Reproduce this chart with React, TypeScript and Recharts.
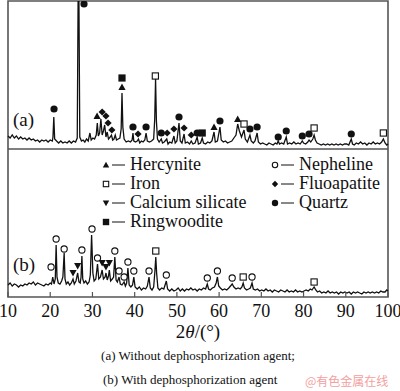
import { ComposedChart, Line, Scatter, XAxis, YAxis, ReferenceArea, ReferenceLine } from "recharts";

const SERIF = "'Times New Roman', 'Liberation Serif', Times, serif";
const INK = "#111";
const FRAME = "#555";

// 2θ ticks along the bottom
const TICKS = [10, 20, 30, 40, 50, 60, 70, 80, 90, 100];

// panel (a) sits on top of panel (b): its intensities are shifted up by this much
const OFFSET_A = 148;

// (a) without dephosphorization agent — [2θ, intensity]
const patternA: [number, number][] = [
  [10, 13], [10.5, 11], [11, 14], [11.5, 11], [12, 13], [12.5, 10], [13, 12], [13.5, 10], [14, 11], [14.5, 9],
  [15, 11], [15.5, 9], [16, 10], [16.5, 8], [17, 9], [17.5, 7], [18, 9], [18.5, 8], [19, 9], [19.5, 7],
  [20, 9], [20.5, 8], [20.65, 12], [20.85, 32], [21.05, 10], [21.5, 8], [22, 6], [22.5, 8], [23, 6], [23.5, 7],
  [24, 6], [24.5, 8], [25, 6], [25.5, 8], [26, 7], [26.4, 11], [26.6, 148], [26.8, 148], [27, 12], [27.4, 8],
  [27.8, 9], [28.2, 7], [28.6, 10], [29, 8], [29.4, 16], [29.7, 9], [30.1, 11], [30.5, 10], [30.9, 14], [31.15, 26],
  [31.4, 13], [31.7, 16], [32, 30], [32.3, 14], [32.6, 18], [32.9, 24], [33.2, 12], [33.5, 17], [33.8, 10], [34.2, 12],
  [34.5, 14], [34.8, 9], [35.1, 10], [35.4, 14], [35.7, 9], [36.1, 10], [36.5, 11], [36.8, 20], [37, 56], [37.2, 22],
  [37.5, 10], [38, 7], [38.5, 8], [39, 7], [39.4, 9], [39.6, 16], [39.8, 8], [40.2, 7], [40.6, 8], [40.9, 10],
  [41.2, 6], [41.6, 8], [42, 7], [42.4, 9], [42.7, 16], [43, 8], [43.5, 7], [44, 8], [44.5, 10], [44.75, 30],
  [44.95, 70], [45.15, 28], [45.4, 10], [45.8, 7], [46.3, 10], [46.6, 6], [47, 7], [47.6, 10], [47.9, 5], [48.3, 7],
  [48.8, 6], [49.3, 13], [49.6, 6], [50, 8], [50.5, 26], [50.8, 8], [51.2, 6], [51.7, 15], [52, 6], [52.5, 7],
  [53, 5], [53.4, 8], [53.8, 5], [54.3, 6], [54.8, 12], [55.1, 5], [55.6, 6], [56, 11], [56.3, 6], [56.8, 5],
  [57.3, 7], [57.8, 6], [58.3, 8], [58.8, 17], [59.1, 7], [59.6, 8], [60.2, 22], [60.5, 9], [61, 7], [61.5, 8],
  [62, 6], [62.5, 7], [63, 8], [63.5, 11], [64, 14], [64.4, 25], [64.8, 18], [65.3, 12], [65.9, 19], [66.2, 10],
  [66.7, 7], [67.3, 14], [67.6, 8], [68.1, 6], [68.5, 8], [69, 16], [69.3, 7], [69.8, 5], [70.3, 6], [70.8, 5],
  [71.3, 4], [71.8, 6], [72.3, 5], [72.8, 4], [73.3, 6], [73.7, 5], [74, 8], [74.3, 5], [74.8, 6], [75.3, 5],
  [75.9, 12], [76.2, 5], [76.7, 6], [77.2, 5], [77.7, 7], [78.2, 5], [78.7, 6], [79.2, 5], [79.7, 8], [80, 6],
  [80.5, 5], [81, 7], [81.3, 9], [81.7, 7], [82.2, 10], [82.5, 14], [82.8, 9], [83.2, 6], [83.7, 5], [84.2, 4],
  [84.7, 5], [85.2, 4], [85.7, 5], [86.2, 4], [86.7, 5], [87.2, 4], [87.7, 5], [88.2, 4], [88.7, 5], [89.2, 4],
  [89.7, 5], [90.2, 5], [90.7, 4], [91.3, 10], [91.6, 5], [92, 4], [92.5, 6], [93, 5], [93.5, 7], [94, 5],
  [94.5, 6], [95, 4], [95.5, 6], [96, 5], [96.5, 7], [97, 5], [97.5, 6], [98, 5], [98.5, 7], [98.9, 10],
  [99.3, 6], [99.7, 4], [100, 5],
];

// (b) with dephosphorization agent
const patternB: [number, number][] = [
  [10, 12], [10.5, 14], [11, 11], [11.5, 13], [12, 12], [12.5, 10], [13, 12], [13.5, 11], [14, 13], [14.5, 12],
  [15, 14], [15.5, 13], [16, 15], [16.5, 12], [17, 14], [17.5, 13], [18, 12], [18.5, 11], [19, 13], [19.5, 12],
  [20, 14], [20.3, 13], [20.6, 20], [20.9, 13], [21.2, 18], [21.4, 52], [21.6, 20], [21.9, 14], [22.3, 13], [22.7, 16],
  [23, 20], [23.3, 44], [23.5, 18], [23.8, 13], [24.2, 15], [24.6, 12], [25, 14], [25.4, 18], [25.7, 13], [26.1, 16],
  [26.5, 24], [26.8, 15], [27.1, 14], [27.3, 20], [27.5, 41], [27.7, 18], [28, 14], [28.4, 16], [28.8, 13], [29.2, 15],
  [29.5, 22], [29.8, 62], [30.1, 24], [30.4, 16], [30.8, 18], [31.2, 33], [31.5, 18], [31.9, 20], [32.3, 27], [32.6, 18],
  [33, 20], [33.2, 24], [33.5, 17], [33.8, 21], [34, 27], [34.3, 16], [34.7, 18], [35, 20], [35.3, 40], [35.6, 17],
  [35.9, 15], [36.3, 20], [36.6, 13], [37, 12], [37.5, 15], [37.8, 11], [38.1, 14], [38.4, 29], [38.7, 12], [39.1, 10],
  [39.5, 12], [39.8, 20], [40.1, 10], [40.6, 8], [41.1, 10], [41.6, 7], [42.1, 9], [42.6, 8], [43, 11], [43.4, 20],
  [43.7, 9], [44.1, 7], [44.5, 10], [44.8, 26], [45, 40], [45.2, 24], [45.5, 9], [45.9, 7], [46.4, 9], [46.9, 8],
  [47.5, 16], [47.8, 8], [48.3, 6], [48.8, 8], [49.3, 6], [49.8, 7], [50.3, 9], [50.8, 6], [51.3, 8], [51.8, 6],
  [52.3, 8], [52.8, 7], [53.3, 9], [53.8, 7], [54.3, 8], [54.8, 6], [55.3, 8], [55.8, 7], [56.3, 9], [56.8, 8],
  [57.2, 13], [57.5, 8], [57.9, 7], [58.4, 9], [58.9, 10], [59.3, 14], [59.6, 20], [59.9, 11], [60.3, 9], [60.8, 7],
  [61.3, 8], [61.8, 7], [62.3, 9], [62.7, 11], [63.1, 13], [63.5, 10], [64, 8], [64.5, 9], [65, 8], [65.4, 10],
  [65.7, 14], [66, 9], [66.5, 7], [67, 8], [67.4, 9], [67.8, 14], [68.1, 8], [68.6, 7], [69.1, 8], [69.6, 6],
  [70.1, 7], [70.6, 6], [71.1, 8], [71.6, 6], [72.1, 7], [72.6, 5], [73.1, 7], [73.6, 6], [74.1, 5], [74.6, 7],
  [75.1, 6], [75.6, 5], [76.1, 7], [76.6, 5], [77.1, 6], [77.6, 5], [78.1, 7], [78.6, 5], [79.1, 6], [79.6, 5],
  [80.1, 6], [80.6, 7], [81.1, 6], [81.6, 8], [82, 7], [82.5, 10], [82.9, 7], [83.3, 5], [83.8, 6], [84.3, 4],
  [84.8, 5], [85.3, 4], [85.8, 6], [86.3, 4], [86.8, 5], [87.3, 4], [87.8, 5], [88.3, 3], [88.8, 5], [89.3, 4],
  [89.8, 5], [90.3, 4], [90.8, 5], [91.3, 3], [91.8, 5], [92.3, 4], [92.8, 5], [93.3, 4], [93.8, 3], [94.3, 5],
  [94.8, 4], [95.3, 5], [95.8, 4], [96.3, 5], [96.8, 4], [97.3, 5], [97.8, 4], [98.3, 6], [98.8, 5], [99.3, 5],
  [99.7, 7], [100, 6],
];

// phase markers (marker centre, same units as the pattern they label)
const quartzA: [number, number][] = [
  [20.9, 40], [28.0, 145], [39.6, 22], [42.7, 22], [46.3, 16], [50.5, 32], [54.8, 16], [60.2, 28],
  [67.3, 20], [69.0, 22], [74.0, 12], [75.9, 18], [79.7, 13], [81.3, 15], [91.3, 15],
];
const fluoapatiteA: [number, number][] = [
  [32.3, 37], [33.2, 33], [33.7, 26], [34.6, 19], [40.8, 15], [47.7, 16], [49.3, 20], [51.7, 21], [53.4, 14],
];
const hercyniteA: [number, number][] = [[31.1, 33], [37.0, 62], [58.8, 22], [64.4, 30]];
const ringwooditeA: [number, number][] = [[37.0, 71], [56.0, 16]];
const ironA: [number, number][] = [[44.9, 73], [65.9, 25], [82.5, 21], [98.9, 16]];

const nephelineB: [number, number][] = [
  [20.2, 30], [21.4, 58], [23.3, 48], [27.5, 47], [29.9, 68], [31.2, 39], [35.3, 46], [36.3, 26], [37.5, 20],
  [38.4, 35], [39.8, 26], [43.4, 26], [47.5, 22], [57.2, 19], [59.6, 26], [63.1, 19], [67.8, 20],
];
const calciumSilicateB: [number, number][] = [[25.4, 24], [26.5, 31], [32.3, 34], [33.2, 30], [34.0, 34]];
const ironB: [number, number][] = [[45.0, 46], [65.7, 20], [82.5, 15]];

const LEGEND_LEFT = [
  { kind: "hercynite", name: "Hercynite" },
  { kind: "iron", name: "Iron" },
  { kind: "calcium", name: "Calcium silicate" },
  { kind: "ringwoodite", name: "Ringwoodite" },
];
const LEGEND_RIGHT = [
  { kind: "nepheline", name: "Nepheline" },
  { kind: "fluoapatite", name: "Fluoapatite" },
  { kind: "quartz", name: "Quartz" },
];

const toPoints = (arr: [number, number][], offset = 0) => arr.map(([x, y]) => ({ x, y: y + offset }));

function Mark({ kind, cx, cy, s = 3.6 }: { kind: string; cx: number; cy: number; s?: number }) {
  switch (kind) {
    case "quartz":
      return <circle cx={cx} cy={cy} r={s} fill={INK} />;
    case "nepheline":
      return <circle cx={cx} cy={cy} r={s - 0.5} fill="#fff" stroke={INK} strokeWidth={1.1} />;
    case "iron":
      return <rect x={cx - s + 0.5} y={cy - s + 0.5} width={2 * s - 1} height={2 * s - 1} fill="#fff" stroke={INK} strokeWidth={1.1} />;
    case "ringwoodite":
      return <rect x={cx - s} y={cy - s} width={2 * s} height={2 * s} fill={INK} />;
    case "hercynite":
      return <polygon points={`${cx},${cy - s} ${cx + s},${cy + s * 0.8} ${cx - s},${cy + s * 0.8}`} fill={INK} />;
    case "calcium":
      return <polygon points={`${cx},${cy + s} ${cx + s},${cy - s * 0.8} ${cx - s},${cy - s * 0.8}`} fill={INK} />;
    case "fluoapatite":
      return <polygon points={`${cx},${cy - s} ${cx + s},${cy} ${cx},${cy + s} ${cx - s},${cy}`} fill={INK} />;
    default:
      return null;
  }
}

function Tick({ x, y, payload }: any) {
  return (
    <g>
      <line x1={x} x2={x} y1={y} y2={y - 5} stroke={FRAME} strokeWidth={1.2} />
      <text x={x} y={y + 20} textAnchor="middle" style={{ fontFamily: SERIF }} fontSize={18} fill={INK}>
        {payload.value}
      </text>
    </g>
  );
}

function LegendColumn({ items, left, top }: { items: { kind: string; name: string }[]; left: number; top: number }) {
  return (
    <div style={{ position: "absolute", left, top }}>
      {items.map((it) => (
        <div key={it.name} style={{ display: "flex", alignItems: "center", height: 19 }}>
          <svg width={28} height={19}>
            <Mark kind={it.kind} cx={4} cy={10} s={3.2} />
            <line x1={10} x2={23} y1={10} y2={10} stroke={INK} strokeWidth={1} />
          </svg>
          <span style={{ fontFamily: SERIF, fontSize: 18, lineHeight: "19px", color: INK, whiteSpace: "nowrap" }}>{it.name}</span>
        </div>
      ))}
    </div>
  );
}

const markerSeries = [
  { kind: "quartz", data: toPoints(quartzA, OFFSET_A) },
  { kind: "fluoapatite", data: toPoints(fluoapatiteA, OFFSET_A) },
  { kind: "hercynite", data: toPoints(hercyniteA, OFFSET_A) },
  { kind: "ringwoodite", data: toPoints(ringwooditeA, OFFSET_A) },
  { kind: "iron", data: toPoints(ironA, OFFSET_A) },
  { kind: "nepheline", data: toPoints(nephelineB) },
  { kind: "calcium", data: toPoints(calciumSilicateB) },
  { kind: "iron", data: toPoints(ironB) },
];

export default function App() {
  return (
    <div style={{ position: "absolute", left: 0, top: 0, width: 400, height: 391, background: "#fff", fontFamily: SERIF }}>
      <ComposedChart width={400} height={391} margin={{ top: 1, right: 12, bottom: 64, left: 8 }}>
        <XAxis
          dataKey="x"
          type="number"
          domain={[10, 100]}
          ticks={TICKS}
          height={30}
          axisLine={false}
          tickLine={false}
          tickSize={0}
          tickMargin={0}
          tick={<Tick />}
          interval={0}
        />
        <YAxis type="number" domain={[0, 296]} hide allowDataOverflow />
        <Line data={toPoints(patternB)} dataKey="y" stroke={INK} strokeWidth={1.3} dot={false} isAnimationActive={false} />
        <Line data={toPoints(patternA, OFFSET_A)} dataKey="y" stroke={INK} strokeWidth={1.3} dot={false} isAnimationActive={false} />
        {markerSeries.map((m, i) => (
          <Scatter
            key={i}
            data={m.data}
            dataKey="y"
            isAnimationActive={false}
            shape={(p: any) => <Mark kind={m.kind} cx={p.cx} cy={p.cy} />}
          />
        ))}
        <ReferenceLine y={148} stroke={FRAME} strokeWidth={1.4} />
        <ReferenceArea x1={10} x2={100} y1={0} y2={296} fill="none" stroke={FRAME} strokeWidth={1.6} />
      </ComposedChart>

      <div style={{ position: "absolute", left: 13, top: 109, fontSize: 19, color: INK }}>(a)</div>
      <div style={{ position: "absolute", left: 13, top: 254, fontSize: 19, color: INK }}>(b)</div>

      <LegendColumn items={LEGEND_LEFT} left={102} top={155} />
      <LegendColumn items={LEGEND_RIGHT} left={271} top={155} />

      <div style={{ position: "absolute", left: 0, width: 396, top: 321, textAlign: "center", fontSize: 19, color: INK }}>
        2<i>θ</i>/(°)
      </div>
      <div style={{ position: "absolute", left: 0, width: 396, top: 348, textAlign: "center", fontSize: 13, color: INK }}>
        (a) Without dephosphorization agent;
      </div>
      <div style={{ position: "absolute", left: 103, top: 372, fontSize: 13, color: INK }}>
        (b) With dephosphorization agent
      </div>
      <div style={{ position: "absolute", left: 305, top: 372, fontFamily: "'Noto Sans CJK SC', sans-serif", fontSize: 12, color: "#f2a0a0" }}>
        @有色金属在线
      </div>
    </div>
  );
}
